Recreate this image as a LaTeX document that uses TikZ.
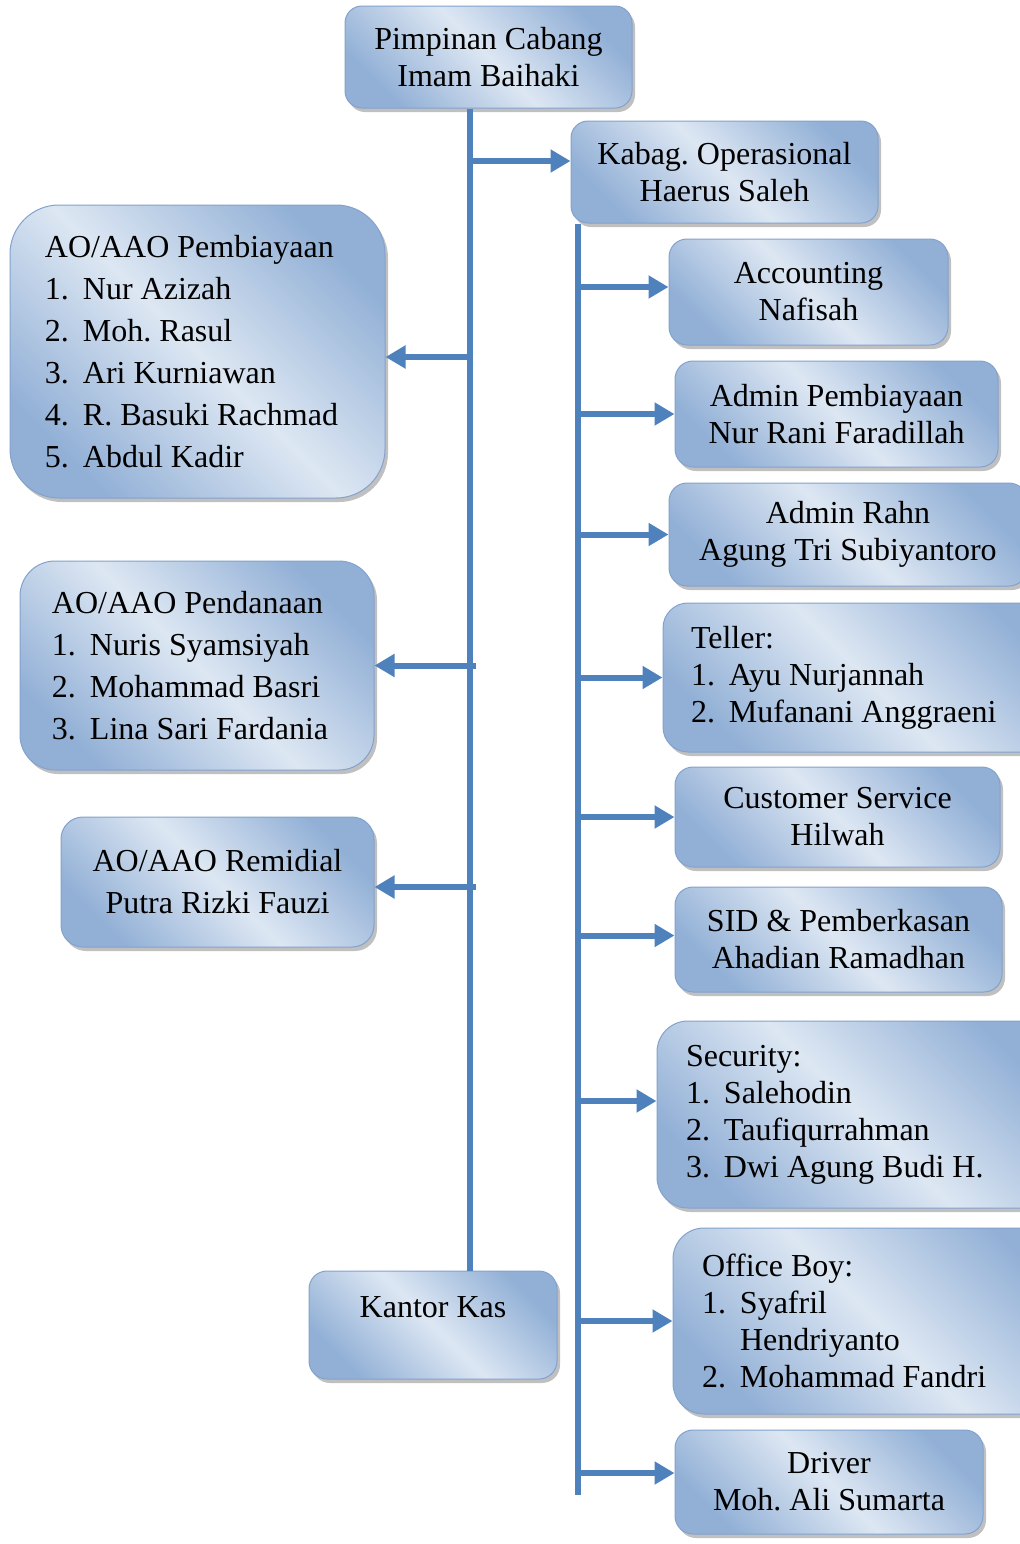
\documentclass[tikz,border=0pt]{standalone}
\usepackage{fontspec}
\setmainfont{Liberation Serif}
\usetikzlibrary{shadows,arrows.meta}
\definecolor{conncol}{RGB}{79,129,189}
\definecolor{boxdark}{RGB}{146,176,214}
\definecolor{boxlight}{RGB}{221,231,243}
\definecolor{boxline}{RGB}{130,162,205}
\newcommand\fs{\fontsize{16pt}{18.5pt}\selectfont}
\newcommand\fsw{\fontsize{16pt}{21pt}\selectfont}
\newcommand\nsp{\spaceskip=4pt\relax\xspaceskip=4pt\relax}
\newcommand\itm[1]{\makebox[19pt][l]{#1}}
\frenchspacing
\begin{document}
\begin{tikzpicture}[x=0.5pt,y=-0.5pt]
\tikzset{
  box/.style={draw=boxline, line width=0.5pt, top color=boxdark, bottom color=boxdark,
    middle color=boxlight, shading angle=-45,
    drop shadow={shadow xshift=1.5pt, shadow yshift=-2pt, fill=black!55, opacity=0.45},
    align=center, inner sep=0pt, font=\fs},
  listbox/.style={box, align=left, font=\fs},
  listboxw/.style={box, align=left, font=\fsw},
  conn/.style={line width=3pt, draw=conncol},
  arr/.style={conn, -{Triangle[length=10pt,width=11pt]}},
}
\useasboundingbox (0,0) rectangle (1019,1544);

% boxes
\node[box, rounded corners=8.5pt, minimum width=143.5pt, minimum height=51pt] (pim) at (488.5,57) {Pimpinan Cabang\\Imam Baihaki};
\node[box, rounded corners=8.5pt, minimum width=153.5pt, minimum height=51pt] (kab) at (724.5,172) {Kabag. Operasional\\Haerus Saleh};
\node[listboxw, rounded corners=24.5pt, text width=152.5pt, inner xsep=17.5pt, minimum height=146.5pt] (aop) at (197.5,351.5)
  {\nsp AO/AAO Pembiayaan\\\itm{1.}Nur Azizah\\\itm{2.}Moh. Rasul\\\itm{3.}Ari Kurniawan\\\itm{4.}R. Basuki Rachmad\\\itm{5.}Abdul Kadir};
\node[listboxw, rounded corners=17.5pt, text width=145pt, inner xsep=16pt, minimum height=104.5pt] (aod) at (197,665.5)
  {\nsp AO/AAO Pendanaan\\\itm{1.}Nuris Syamsiyah\\\itm{2.}Mohammad Basri\\\itm{3.}Lina Sari Fardania};
\node[box, font=\fsw, rounded corners=11pt, minimum width=156.5pt, minimum height=65pt] (aor) at (217.5,882) {AO/AAO Remidial\\Putra Rizki Fauzi};
\node[box, rounded corners=9pt, minimum width=139.5pt, minimum height=53pt] (acc) at (808.5,292) {Accounting\\Nafisah};
\node[box, rounded corners=9pt, minimum width=161.5pt, minimum height=53pt] (adp) at (836.5,414) {Admin Pembiayaan\\Nur Rani Faradillah};
\node[box, rounded corners=9pt, minimum width=179pt, minimum height=51.5pt] (rahn) at (848,534.5) {Admin Rahn\\Agung Tri Subiyantoro};
\node[listbox, rounded corners=12.5pt, text width=175pt, inner xsep=14pt, minimum height=74.5pt] (tel) at (866,677.5)
  {\nsp Teller:\\\itm{1.}Ayu Nurjannah\\\itm{2.}Mufanani Anggraeni};
\node[box, rounded corners=9pt, minimum width=162.5pt, minimum height=50pt] (cs) at (837.5,817) {Customer Service\\Hilwah};
\node[box, rounded corners=9pt, minimum width=163.5pt, minimum height=52.5pt] (sid) at (838.5,939.5) {SID \& Pemberkasan\\Ahadian Ramadhan};
\node[listbox, rounded corners=15.5pt, text width=175pt, inner xsep=14.5pt, minimum height=93.5pt] (sec) at (861,1114.5)
  {\nsp Security:\\\itm{1.}Salehodin\\\itm{2.}Taufiqurrahman\\\itm{3.}Dwi Agung Budi H.};
\node[box, rounded corners=9pt, minimum width=124pt, minimum height=54pt,
  label={[font=\fs, anchor=north, yshift=-9.5pt]north:Kantor Kas}] (kas) at (433,1325) {};
\node[listbox, rounded corners=15.5pt, text width=175pt, inner xsep=14.5pt, minimum height=93pt] (ob) at (877,1321)
  {\nsp Office Boy:\\\itm{1.}Syafril\\\hspace*{19pt}Hendriyanto\\\itm{2.}Mohammad Fandri};
\node[box, rounded corners=9pt, minimum width=154pt, minimum height=52pt] (drv) at (829,1482) {Driver\\Moh. Ali Sumarta};

% trunk coordinates
\coordinate (j0) at (470,0);
\coordinate (j0r) at (476,0);
\coordinate (j1) at (578,0);
\coordinate (j1a) at (575,0);
\coordinate (j1end) at (578,1495);
% arrow targets
\coordinate (kabin) at ([yshift=5.5pt]kab.west);
\coordinate (aopin) at ([yshift=-2.75pt]aop.east);
\coordinate (aodin) at (aod.east);
\coordinate (aorin) at ([yshift=-2.5pt]aor.east);
\coordinate (accin) at ([yshift=2.5pt]acc.west);
\coordinate (adpin) at (adp.west);
\coordinate (rahnin) at (rahn.west);
\coordinate (telin) at (tel.west);
\coordinate (csin) at (cs.west);
\coordinate (sidin) at ([yshift=2pt]sid.west);
\coordinate (secin) at ([yshift=6.75pt]sec.west);
\coordinate (obin) at (ob.west);
\coordinate (drvin) at ([yshift=4.5pt]drv.west);

% trunks
\draw[conn] (pim.south -| j0) -- (kas.north -| j0);
\draw[conn] (kab.south -| j1) -- (j1end);

% arrows from main trunk
\draw[arr] (j0 |- kabin) -- (kabin);
\draw[arr] (j0 |- aopin) -- (aopin);
\draw[arr] (j0r |- aodin) -- (aodin);
\draw[arr] (j0r |- aorin) -- (aorin);

% arrows from second trunk
\draw[arr] (j1a |- accin) -- (accin);
\draw[arr] (j1a |- adpin) -- (adpin);
\draw[arr] (j1a |- rahnin) -- (rahnin);
\draw[arr] (j1a |- telin) -- (telin);
\draw[arr] (j1a |- csin) -- (csin);
\draw[arr] (j1a |- sidin) -- (sidin);
\draw[arr] (j1a |- secin) -- (secin);
\draw[arr] (j1a |- obin) -- (obin);
\draw[arr] (j1a |- drvin) -- (drvin);
\end{tikzpicture}
\end{document}
